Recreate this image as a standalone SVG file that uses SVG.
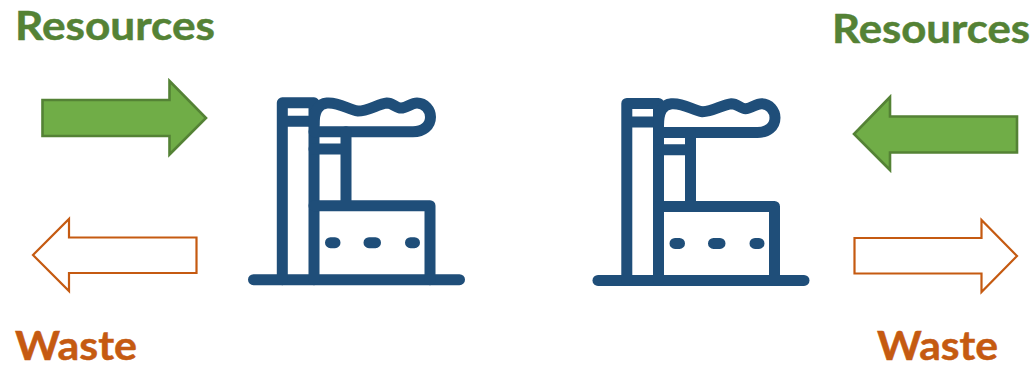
<svg xmlns="http://www.w3.org/2000/svg" width="1036" height="366" viewBox="0 0 1036 366">
<style>
.res{fill:#548235;stroke:#548235;stroke-width:.5}
.was{fill:#C55A11;stroke:#C55A11;stroke-width:.5}
text{font-family:"Lato","Liberation Sans",sans-serif;font-weight:700;font-size:41px}
.ga{fill:#70AD47;stroke:#548235;stroke-width:2.6}
.oa{fill:#FFFFFF;stroke:#C55A11;stroke-width:2.2}
.fl{fill:none;stroke:#1F4E79;stroke-width:11;stroke-linecap:round;stroke-linejoin:round}
</style>
<defs>
<g id="factory">
<path class="fl" d="M13.500 194.700H219.500"/>
<path class="fl" d="M42.300 194.700V17.800H74V194.700M42.300 36.300H74"/>
<path class="fl" d="M74 40C74 26 78 19 87 18C100 17 108 25 118 26C128 26 138 19 147 18C153 18 156 23 161 23C167 23 171 18 177 18C185 18 190.500 25 190.500 32C190.500 41 183 46.700 173 46.700H74"/>
<path class="fl" d="M106 46.700V120.700M74 64H106M74 120.700H190V194.700"/>
<path class="fl" d="M90.500 157.700H95M129 157.700H135.500M170.500 157.700H174.500"/>
</g>
</defs>
<g id="connectors">
<path class="ga" d="M42.500 100H169.500V81L206 118L169.500 154.500V136H42.500Z"/>
<path class="oa" d="M196.500 237.500H69V219L33 255L69 291V273H196.500Z"/>
<path class="ga" d="M1017 116.500H890V97L854 134L890 170V152.500H1017Z"/>
<path class="oa" d="M854.500 238H981.500V220L1017 256L981.500 292V273.500H854.500Z"/>
</g>
<g id="factory-left"><use href="#factory" transform="translate(240 85)"/></g>
<g id="factory-right"><use href="#factory" transform="translate(584.500 85.700)"/></g>
<g id="label-resources-left"><text class="res" x="15" y="39.500" textLength="200" lengthAdjust="spacingAndGlyphs">Resources</text></g>
<g id="label-waste-left"><text class="was" x="15" y="359.500" textLength="122" lengthAdjust="spacingAndGlyphs">Waste</text></g>
<g id="label-resources-right"><text class="res" x="832" y="43" textLength="198" lengthAdjust="spacingAndGlyphs">Resources</text></g>
<g id="label-waste-right"><text class="was" x="877" y="359.500" textLength="121" lengthAdjust="spacingAndGlyphs">Waste</text></g>
</svg>
